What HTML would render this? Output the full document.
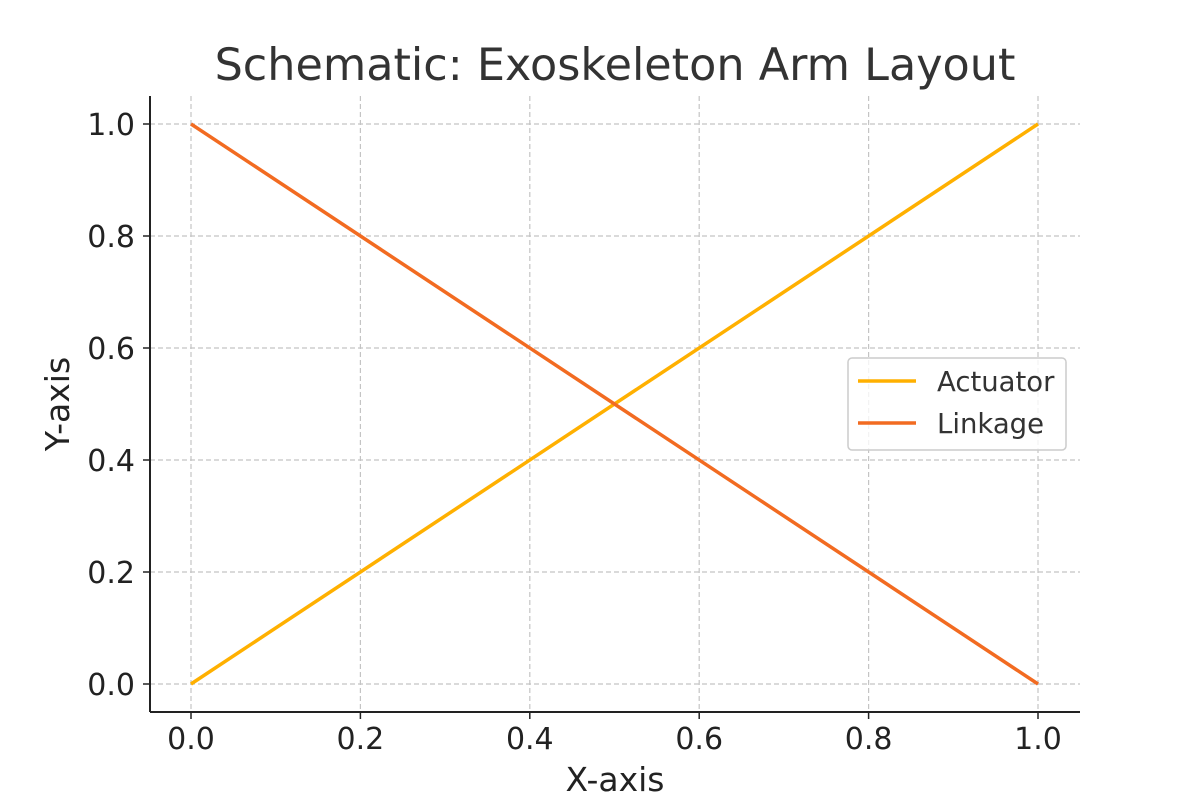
<!DOCTYPE html>
<html>
<head>
<meta charset="utf-8">
<style>
html,body{margin:0;padding:0;background:#fff;}
svg{display:block;font-family:"DejaVu Sans","Liberation Sans",sans-serif;}
</style>
</head>
<body>
<svg id="chart" width="1200" height="800" viewBox="0 0 1200 800">
<text x="615" y="80" font-size="44.5" fill="#333" text-anchor="middle">Schematic: Exoskeleton Arm Layout</text>
<g id="grid"></g>
<g id="series"></g>
<line x1="150" y1="96" x2="150" y2="712" stroke="#222" stroke-width="2"/>
<line x1="150" y1="712" x2="1080" y2="712" stroke="#222" stroke-width="2"/>
<g id="ticks"></g>
<text x="615" y="791" font-size="33" fill="#222" text-anchor="middle">X-axis</text>
<text x="0" y="0" font-size="33" fill="#222" text-anchor="middle" transform="translate(69,404) rotate(-90)">Y-axis</text>
<g>
<rect x="848" y="358" width="218" height="92" rx="4" fill="#fff" fill-opacity="0.8" stroke="#ccc" stroke-width="1.5"/>
<line x1="858" y1="381" x2="916" y2="381" stroke="#FFB000" stroke-width="3.5"/>
<text x="937" y="391" font-size="27.5" fill="#333">Actuator</text>
<line x1="858" y1="423" x2="916" y2="423" stroke="#F26B21" stroke-width="3.5"/>
<text x="937" y="433" font-size="27.5" fill="#333">Linkage</text>
</g>
</svg>
<script>
const xValues = [0, 1];
const actuatorValues = [0, 1];
const linkageValues = [1, 0];
const xTicks = [0, 0.2, 0.4, 0.6, 0.8, 1.0];
const yTicks = [0, 0.2, 0.4, 0.6, 0.8, 1.0];
const xTickLabels = ["0.0","0.2","0.4","0.6","0.8","1.0"];
const yTickLabels = ["0.0","0.2","0.4","0.6","0.8","1.0"];

const NS = "http://www.w3.org/2000/svg";
function sx(v){ return 191 + v * (1038 - 191); }
function sy(v){ return 684 - v * (684 - 124); }
function mk(tag, attrs, parent){
  const e = document.createElementNS(NS, tag);
  for (const k in attrs) e.setAttribute(k, attrs[k]);
  parent.appendChild(e);
  return e;
}
const grid = document.getElementById('grid');
const ticks = document.getElementById('ticks');
const series = document.getElementById('series');

xTicks.forEach((t, i) => {
  const g = mk('line', {x1: sx(t), x2: sx(t), y1: 96, y2: 712, stroke: '#c4c4c4', 'stroke-width': 1.2, 'stroke-dasharray': '5,3'}, grid);
  
  
  const tk = mk('line', {x1: sx(t), x2: sx(t), y1: 712, y2: 719, stroke: '#222', 'stroke-width': 1.5}, ticks);
  
  
  const tx = mk('text', {x: sx(t), y: 749, 'font-size': 30, fill: '#222', 'text-anchor': 'middle'}, ticks);
  tx.textContent = xTickLabels[i];
  
  
});
yTicks.forEach((t, i) => {
  const g = mk('line', {x1: 150, x2: 1080, y1: sy(t), y2: sy(t), stroke: '#c4c4c4', 'stroke-width': 1.2, 'stroke-dasharray': '5,3'}, grid);
  
  
  const tk = mk('line', {x1: 143, x2: 150, y1: sy(t), y2: sy(t), stroke: '#222', 'stroke-width': 1.5}, ticks);
  
  
  const tx = mk('text', {x: 135, y: sy(t) + 11, 'font-size': 30, fill: '#222', 'text-anchor': 'end'}, ticks);
  tx.textContent = yTickLabels[i];
  
  
});
function pts(vals){ return xValues.map((x, i) => sx(x) + ',' + sy(vals[i])).join(' '); }
const a = mk('polyline', {points: pts(actuatorValues), fill: 'none', stroke: '#FFB000', 'stroke-width': 3.5}, series);


const l = mk('polyline', {points: pts(linkageValues), fill: 'none', stroke: '#F26B21', 'stroke-width': 3.5}, series);


</script>
</body>
</html>
